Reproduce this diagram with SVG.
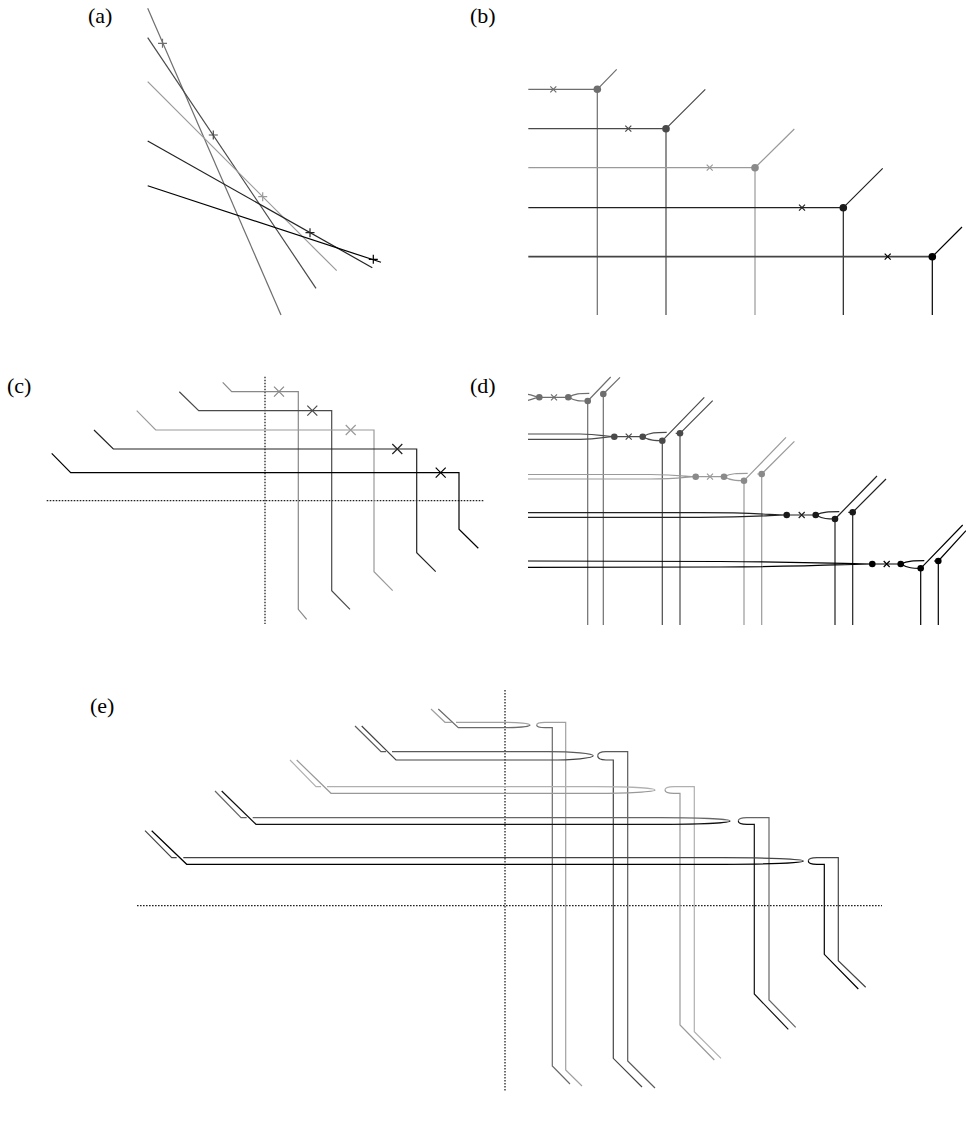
<svg xmlns="http://www.w3.org/2000/svg" xmlns:xlink="http://www.w3.org/1999/xlink" width="966" height="1126" viewBox="0 0 966 1126">
<style>
text{font-family:"Liberation Serif","Times New Roman",serif;font-size:22px;fill:#000}
path,line{fill:none;stroke-width:1.2}
.dot{stroke:none}
.dash{stroke:#222;stroke-width:1.3;stroke-dasharray:1.6,1.4}
.c1{stroke:#6e6e6e}.c2{stroke:#4a4a4a}.c3{stroke:#9a9a9a}.c4{stroke:#222}.c5{stroke:#000}
.f1{fill:#6e6e6e}.f2{fill:#4a4a4a}.f3{fill:#8a8a8a}.f4{fill:#1a1a1a}.f5{fill:#000}
.e1a{stroke:#a0a0a0}.e1b{stroke:#6a6a6a}.e2a{stroke:#5a5a5a}.e2b{stroke:#444}.e3a{stroke:#b0b0b0}.e3b{stroke:#999}.e4a{stroke:#666}.e4b{stroke:#111}.e5a{stroke:#444}.e5b{stroke:#000}
</style>
<defs>
<path id="plus" d="M-4.5,0H4.5M0,-4.5V4.5"/>
<path id="xs" d="M-3,-3L3,3M-3,3L3,-3"/>
<path id="xb" d="M-5,-5L5,5M-5,5L5,-5"/>
</defs>

<g id="labels">
<text x="88" y="23">(a)</text>
<text x="470" y="23">(b)</text>
<text x="7" y="393">(c)</text>
<text x="470" y="393">(d)</text>
<text x="90" y="713">(e)</text>
</g>

<g id="panel-a">
<line class="c1" x1="147.7" y1="8.3" x2="281" y2="315"/>
<line class="c2" x1="147.7" y1="37.7" x2="316" y2="288.3"/>
<line class="c3" x1="147.7" y1="81.7" x2="336.7" y2="270.7"/>
<line class="c4" x1="147.7" y1="141" x2="372.3" y2="267.7"/>
<line class="c5" x1="147.7" y1="185.7" x2="381" y2="262.3"/>
<use href="#plus" class="c1" x="162.5" y="43.3"/>
<use href="#plus" class="c2" x="213.3" y="135"/>
<use href="#plus" class="c3" x="262.7" y="196.7"/>
<use href="#plus" class="c4" x="310" y="232.7"/>
<use href="#plus" class="c5" x="373.3" y="259.3"/>
</g>

<g id="panel-b">
<g id="b1">
<path class="c1" d="M528.3,89.3H597.3V315M597.3,89.3L616.7,69.3"/>
<use href="#xs" class="c1" x="553.3" y="89.3"/>
<circle class="dot f1" cx="597.3" cy="89.3" r="3.8"/>
</g>
<g id="b2">
<path class="c2" d="M528.3,128.7H666V315M666,128.7L705.3,89.3"/>
<use href="#xs" class="c2" x="628.3" y="128.7"/>
<circle class="dot f2" cx="666" cy="128.7" r="3.8"/>
</g>
<g id="b3">
<path class="c3" d="M528.3,167.7H755V315M755,167.7L794.3,129"/>
<use href="#xs" class="c3" x="709.7" y="167.7"/>
<circle class="dot f3" cx="755" cy="167.7" r="3.8"/>
</g>
<g id="b4">
<path class="c4" d="M528.3,207.7H843.3V315M843.3,207.7L882.7,168.3"/>
<use href="#xs" class="c4" x="802" y="207.7"/>
<circle class="dot f4" cx="843.3" cy="207.7" r="3.8"/>
</g>
<g id="b5">
<path d="M528.3,256.7H932.3" style="stroke:#444;stroke-width:1.7"/>
<path class="c5" d="M932.3,256.7V315M932.3,256.7L962,227"/>
<use href="#xs" class="c5" x="887.7" y="256.7"/>
<circle class="dot f5" cx="932.3" cy="256.7" r="3.8"/>
</g>
</g>

<g id="panel-c">
<line class="dash" x1="265" y1="376.7" x2="265" y2="624"/>
<line class="dash" x1="46.7" y1="500.7" x2="483.3" y2="500.7"/>
<g id="c1"><path class="c1" style="stroke:#888" d="M222.7,382.3L231.7,391.7H298.3V609.3L306.7,619.3"/><use href="#xb" style="stroke:#888" x="279" y="391.7"/></g>
<g id="c2"><path class="c2" d="M179.3,391.7L198.7,410.7H331.7V590.7L350,609.3"/><use href="#xb" class="c2" x="312.3" y="410.7"/></g>
<g id="c3"><path class="c3" d="M136.7,410.7L155.7,430H374V571.7L392.7,590.7"/><use href="#xb" class="c3" x="350.7" y="430"/></g>
<g id="c4"><path class="c4" d="M94,430L113.3,449H416.7V552.7L435.7,571.7"/><use href="#xb" class="c4" x="397.3" y="449"/></g>
<g id="c5"><path class="c5" d="M51.7,453.3L70.7,472.7H459V529.3L478.3,548.3"/><use href="#xb" class="c5" x="440.7" y="472.7"/></g>
</g>

<g id="panel-d">
<g id="d1">
<path class="c1" d="M528,394.3C533,394.8 535,397.3 539.3,397.3M528,400.3C533,399.8 535,397.3 539.3,397.3M539.3,397.3H568.3"/>
<path class="c1" d="M568.3,397.3C575,393.3 580,393.3 589.3,393.3M568.3,397.3C575,401 580,401 587.7,401"/>
<path class="c1" d="M587.7,401V625M587.7,401L610.7,377M603.3,394V625M603.3,394L620,377.3"/>
<use href="#xs" class="c1" x="554" y="397.3"/>
<circle class="dot f1" cx="539.3" cy="397.3" r="3.3"/><circle class="dot f1" cx="568.3" cy="397.3" r="3.3"/><circle class="dot f1" cx="587.7" cy="401" r="3.3"/><circle class="dot f1" cx="603.3" cy="394" r="3.3"/>
</g>
<g id="d2">
<path class="c2" d="M528,434L580,434C600,434 604,436.7 614.3,436.7M528,439.3L580,439.3C600,439.3 604,436.7 614.3,436.7M614.3,436.7H642.7"/>
<path class="c2" d="M642.7,436.7C650,432.3 656,432.3 666.7,432.3M642.7,436.7C650,440.7 655,440.7 662.3,440.7"/>
<path class="c2" d="M662.3,440.7V625M662.3,440.7L704.3,397.3M675.7,433.3H680M680,433.3V625M680,433.3L712.7,400.7"/>
<use href="#xs" class="c2" x="628.7" y="436.7"/>
<circle class="dot f2" cx="614.3" cy="436.7" r="3.3"/><circle class="dot f2" cx="642.7" cy="436.7" r="3.3"/><circle class="dot f2" cx="662.3" cy="440.7" r="3.3"/><circle class="dot f2" cx="680" cy="433.3" r="3.3"/>
</g>
<g id="d3">
<path class="c3" d="M528,474.5L650,474.5C680,474.5 686,476.7 695.7,476.7M528,479L650,479C680,479 686,476.7 695.7,476.7M695.7,476.7H724"/>
<path class="c3" d="M724,476.7C731,473.3 737,473.3 747.7,473.3M724,476.7C731,480.7 737,480.7 744,480.7"/>
<path class="c3" d="M744,480.7V625M744,480.7L786,437.3M757.3,474H761.7M761.7,474V625M761.7,474L794.4,441.4"/>
<use href="#xs" class="c3" x="710" y="476.7"/>
<circle class="dot f3" cx="695.7" cy="476.7" r="3.3"/><circle class="dot f3" cx="724" cy="476.7" r="3.3"/><circle class="dot f3" cx="744" cy="480.7" r="3.3"/><circle class="dot f3" cx="761.7" cy="474" r="3.3"/>
</g>
<g id="d4">
<path class="c4" d="M528,512.7L700,512.7C760,512.7 770,515 786.7,515M528,517.3L700,517.3C760,517.3 770,515 786.7,515M786.7,515H815.7"/>
<path class="c4" d="M815.7,515C823,511.7 829,511.7 839.3,511.7M815.7,515C823,519 828,519 835,519"/>
<path class="c4" d="M835,519V625M835,519L877,476M848.3,512.3H852.7M852.7,512.3V625M852.7,512.3L886,479"/>
<use href="#xs" class="c4" x="801.7" y="515"/>
<circle class="dot f4" cx="786.7" cy="515" r="3.3"/><circle class="dot f4" cx="815.7" cy="515" r="3.3"/><circle class="dot f4" cx="835" cy="519" r="3.3"/><circle class="dot f4" cx="852.7" cy="512.3" r="3.3"/>
</g>
<g id="d5">
<path class="c5" d="M528,561L720,561.5C820,562 850,564 872.3,564M528,567.3L720,567C820,566.5 850,564 872.3,564M872.3,564H900.7"/>
<path class="c5" d="M900.7,564C908,560.7 914,560.7 924.3,560.7M900.7,564C908,568.3 913,568.3 920.7,568.3"/>
<path class="c5" d="M920.7,568.3V625M920.7,568.3L962.7,525M934,561H938.3M938.3,561V625M938.3,561L966,530.7"/>
<use href="#xs" class="c5" x="886.7" y="564"/>
<circle class="dot f5" cx="872.3" cy="564" r="3.3"/><circle class="dot f5" cx="900.7" cy="564" r="3.3"/><circle class="dot f5" cx="920.7" cy="568.3" r="3.3"/><circle class="dot f5" cx="938.3" cy="561" r="3.3"/>
</g>
</g>

<g id="panel-e">
<line class="dash" x1="505" y1="690" x2="505" y2="1092"/>
<line class="dash" x1="137" y1="905.7" x2="882" y2="905.7"/>
<g id="e1">
<path class="e1a" d="M431,709L445,722.3H451.7M456,722.3L505,722.3A25,2.7 0 0 1 530,725"/>
<path class="e1b" d="M438.3,709L458.3,727.7L505,727.7A25,2.7 0 0 0 530,725"/>
<path class="e1a" d="M582,1086L565.7,1070V722.3H545Q536.7,722.3 536.7,725"/>
<path class="e1b" d="M536.7,725Q536.7,727.7 545,727.7H552.3V1066L570,1084"/>
</g>
<g id="e2">
<path class="e2a" d="M355,726L381,751.7H386M392,751.7L548,751.7A45.3,4.15 0 0 1 593.3,755.85"/>
<path class="e2b" d="M361.7,726L396,760L548,760A45.3,4.15 0 0 0 593.3,755.85"/>
<path class="e2a" d="M655,1088L627.7,1061V751.7H606Q597.7,751.7 597.7,755.85"/>
<path class="e2b" d="M597.7,755.85Q597.7,760 606,760H613.3V1058.3L642,1087"/>
</g>
<g id="e3">
<path class="e3a" d="M290,760L316,786.7H321M327,786.7L595,786.7A60,3.3 0 0 1 655,790"/>
<path class="e3b" d="M296.7,760L331,793.3L595,793.3A60,3.3 0 0 0 655,790"/>
<path class="e3a" d="M721,1058.3L694.3,1031.7V786.7H674Q665,786.7 665,790"/>
<path class="e3b" d="M665,790Q665,793.3 674,793.3H680V1025L714.3,1060"/>
</g>
<g id="e4">
<path class="e4a" d="M215,791L241,817.7H246.7M252.7,817.7L660,817.7A70,3.3 0 0 1 730,821"/>
<path class="e4b" d="M221.7,791L256,824.3L660,824.3A70,3.3 0 0 0 730,821"/>
<path class="e4a" d="M795.7,1027.3L769,1000V817.7H747Q738.3,817.7 738.3,821"/>
<path class="e4b" d="M738.3,821Q738.3,824.3 747,824.3H754.3V994L788.3,1029.3"/>
</g>
<g id="e5">
<path class="e5a" d="M145,830.7L171.7,857.7H176.7M183.3,857.7L723,857.7A80.3,3.3 0 0 1 803.3,861"/>
<path class="e5b" d="M151.7,830.7L186.7,864.3L723,864.3A80.3,3.3 0 0 0 803.3,861"/>
<path class="e5a" d="M865.7,987.3L838.3,960.7V857.7H817Q808.3,857.7 808.3,861"/>
<path class="e5b" d="M808.3,861Q808.3,864.3 817,864.3H824.3V954.3L858.3,989"/>
</g>
</g>
</svg>
